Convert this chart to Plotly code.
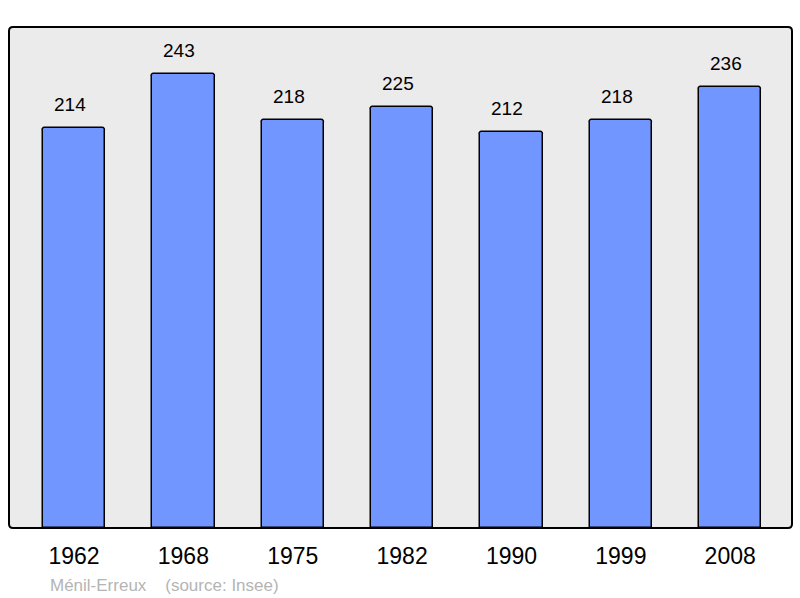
import plotly.graph_objects as go

years = ["1962", "1968", "1975", "1982", "1990", "1999", "2008"]
population = [214, 243, 218, 225, 212, 218, 236]
title_text = "Ménil-Erreux    (source: Insee)"

W, H = 800, 598
ml, mr, mt, mb = 9, 8, 27, 70
pw, ph = W - ml - mr, H - mt - mb

fig = go.Figure()
fig.add_trace(go.Bar(
    x=years, y=population,
    width=0.57,
    marker=dict(color="#7196ff", line=dict(color="black", width=1.5), cornerradius=3),
    hoverinfo="x+y",
))

for i, v in enumerate(population):
    fig.add_annotation(x=i, y=v, text=str(v), showarrow=False, yanchor="bottom",
                       yshift=11, xshift=-4,
                       font=dict(size=19, color="black", family="Liberation Sans, Arial"))

# rounded border of plot area
rx, ry = 4 / pw, 4 / ph
path = (f"M {rx},0 L {1-rx},0 Q 1,0 1,{ry} L 1,{1-ry} Q 1,1 {1-rx},1 "
        f"L {rx},1 Q 0,1 0,{1-ry} L 0,{ry} Q 0,0 {rx},0 Z")
fig.add_shape(type="path", path=path, xref="paper", yref="paper",
              line=dict(color="black", width=2), layer="above")

fig.add_annotation(xref="paper", yref="paper", x=(48 - ml) / pw, y=-(585 - mt - ph) / ph,
                   xanchor="left", yanchor="middle", text=title_text, showarrow=False,
                   font=dict(size=17, color="#b4b4b4", family="Liberation Sans, Arial"))

fig.update_layout(
    width=W, height=H,
    margin=dict(l=ml, r=mr, t=mt, b=mb),
    paper_bgcolor="white", plot_bgcolor="#ebebeb",
    showlegend=False,
    font=dict(family="Liberation Sans, Arial", color="black"),
    bargap=0,
)
fig.update_xaxes(type="category", range=[-0.594, 6.565], showgrid=False, zeroline=False,
                 ticks="outside", ticklen=7, tickcolor="rgba(0,0,0,0)",
                 tickfont=dict(size=23, color="black"), showline=False)
fig.update_yaxes(range=[0, 268], showgrid=False, zeroline=False, showticklabels=False,
                 showline=False)

fig.write_html("out.html", config={"displayModeBar": False},
               post_script="document.body.style.margin='0';")
